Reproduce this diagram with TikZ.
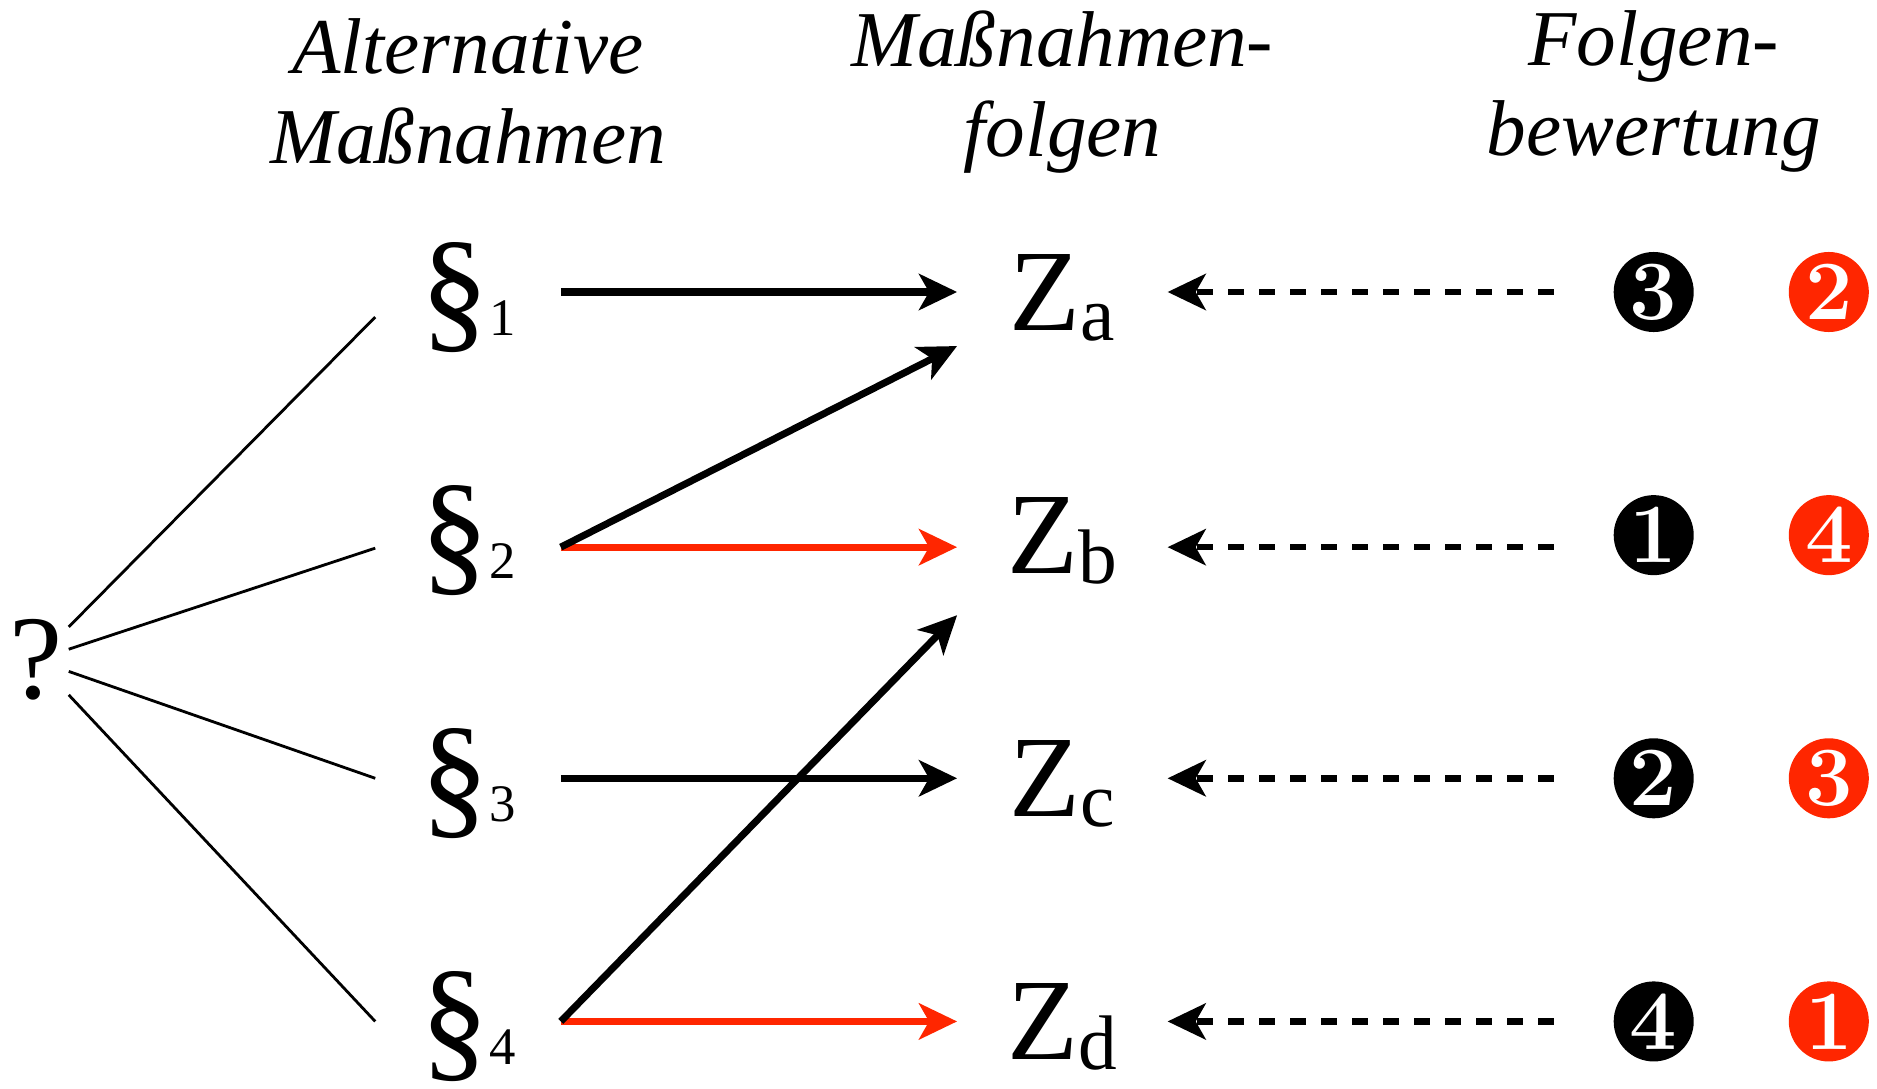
\documentclass[tikz,border=0pt]{standalone}
\usepackage{fontspec}
\newfontfamily\timesfont{Liberation Serif}
\usetikzlibrary{arrows.meta,positioning}
\definecolor{rankred}{RGB}{255,38,0}
\newcommand{\zsub}[1]{\raisebox{-0.1cm}{\fontsize{22}{22}\selectfont #1}}
\newcommand{\psub}[1]{{\fontsize{15}{15}\selectfont #1}}

\begin{document}
\begin{tikzpicture}[x=0.01cm, y=-0.01cm,
  node distance=2.43cm and 5.94cm, on grid,
  head/.style={align=center, font=\timesfont\itshape\fontsize{22.5}{25.6}\selectfont},
  sect/.style={inner sep=0pt, minimum width=1.84cm, minimum height=1cm,
    text height=0.86cm, text depth=0pt, font=\timesfont\fontsize{39}{39}\selectfont},
  goal/.style={inner sep=0pt, minimum width=2.09cm, minimum height=1.08cm,
    text height=0.77cm, text depth=0pt, font=\timesfont\fontsize{33}{33}\selectfont},
  rank/.style={circle, fill=#1, text=white, inner sep=0pt, minimum size=0.8cm,
    font=\fontsize{24}{24}\selectfont\bfseries},
  arr/.style={-{Stealth[length=3.8mm, width=3.6mm, inset=1mm]}, line width=2pt},
  dasharr/.style={arr, line width=1.9pt, dash pattern=on 1.6mm off 1.5mm, shorten <=5.9mm},
  fan/.style={line width=0.8pt}
]
  \useasboundingbox (0,0) rectangle (1877,1088);

  \node[sect] (s1) at (468,292) {§\psub{1}};
  \node[sect, below=of s1] (s2) {§\psub{2}};
  \node[sect, below=of s2] (s3) {§\psub{3}};
  \node[sect, below=of s3] (s4) {§\psub{4}};
  \node[inner sep=0pt, minimum width=0.64cm, minimum height=0.9cm,
    font=\timesfont\fontsize{34}{34}\selectfont] (q) at (36,660) {?};

  \node[goal, right=of s1] (za) {Z\zsub{a}};
  \node[goal, right=of s2] (zb) {Z\zsub{b}};
  \node[goal, right=of s3] (zc) {Z\zsub{c}};
  \node[goal, right=of s4] (zd) {Z\zsub{d}};

  \node[rank=black, right=5.91cm of za] (b1) {3};
  \node[rank=black, right=5.91cm of zb] (b2) {1};
  \node[rank=black, right=5.91cm of zc] (b3) {2};
  \node[rank=black, right=5.91cm of zd] (b4) {4};
  \node[rank=rankred, right=1.75cm of b1] (r1) {2};
  \node[rank=rankred, right=1.75cm of b2] (r2) {4};
  \node[rank=rankred, right=1.75cm of b3] (r3) {3};
  \node[rank=rankred, right=1.75cm of b4] (r4) {1};

  \node[head, above=2cm of s1] (hAlt) {Alternative\\Maßnahmen};
  \node[head, above=2cm of za] (hFol) {Maßnahmen-\\folgen};
  \node[head, above=2cm of b1] (hBew) {Folgen-\\bewertung};

  % fan from the question mark
  \draw[fan] (q) -- ([yshift=-0.25cm]s1.west);
  \draw[fan] (q) -- ([yshift=-0.13cm]s2.west);
  \draw[fan] (q) -- (s3.west);
  \draw[fan] (q) -- (s4.west);

  \draw[arr] (s1) -- (za);
  \draw[arr] (s3) -- (zc);
  \draw[arr, rankred] ([yshift=-1.2mm]s2.east) -- ([yshift=-1.2mm]zb.west);
  \draw[arr, rankred] (s4) -- (zd);
  \draw[arr] ([yshift=-1.2mm]s2.east) -- ([yshift=-0.54cm]za.west);
  \draw[arr] (s4.east) -- ([yshift=-0.8cm]zb.west);

  \draw[dasharr] (b1) -- (za);
  \draw[dasharr] ([yshift=-1.2mm]b2.west) -- ([yshift=-1.2mm]zb.east);
  \draw[dasharr] (b3) -- (zc);
  \draw[dasharr] (b4) -- (zd);
\end{tikzpicture}
\end{document}
